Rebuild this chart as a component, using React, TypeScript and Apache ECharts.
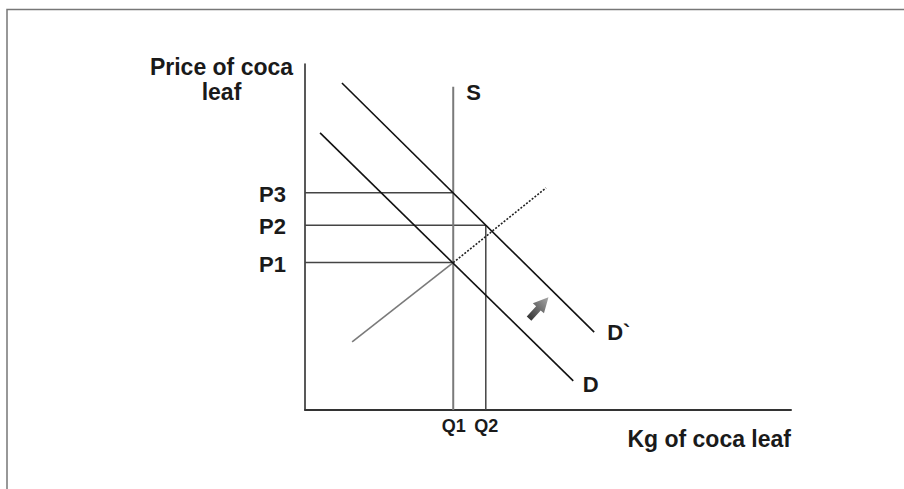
import React, { useEffect, useRef } from "react";
import * as echarts from "echarts";

// ---- data (abstract units, 0..100 on both axes) ----
const xRange = [0, 100];
const yRange = [0, 100];
const quantityLabels = ["Q1", "Q2"];
const quantityValues = [30.5, 37.2];
const priceLabels = ["P1", "P2", "P3"];
const priceValues = [42.6, 53.4, 62.8];
const priceGuideQty = [30.5, 37.2, 30.5];
const supplyLabel = "S";
const supplyQty = 30.5;
const supplyTop = 93.4;
const supplyRising = [[9.7, 19.7], [30.5, 42.6]];
const supplyRisingDotted = [[30.5, 42.6], [49.6, 64.2]];
const demandLabel = "D";
const demand = [[3.1, 80.1], [55.2, 8.4]];
const demandShiftedLabel = "D`";
const demandShifted = [[7.6, 94.5], [59.5, 22.5]];
const shiftArrow = [[46.1, 26.4], [50.1, 32.6]];
const yAxisTitle = "Price of coca\nleaf";
const xAxisTitle = "Kg of coca leaf";

const FONT = "Liberation Sans";
const TEXT_COLOR = "#1a1a1a";

function lineSeries(data: number[][], color: string, width: number, type: any = "solid", z = 3) {
  return {
    type: "line",
    data,
    symbol: "none",
    silent: true,
    z,
    lineStyle: { color, width, type },
  };
}

function textEl(text: string, x: number, y: number, fontSize: number, align: string, extra: any = {}) {
  return {
    type: "text",
    silent: true,
    z: 10,
    x,
    y,
    style: {
      text,
      fontFamily: FONT,
      fontWeight: "bold",
      fontSize,
      fill: TEXT_COLOR,
      align,
      verticalAlign: "middle",
      ...extra,
    },
  };
}

export default function App() {
  const ref = useRef<HTMLDivElement>(null);

  useEffect(() => {
    if (!ref.current) return;
    const chart = echarts.init(ref.current, undefined, { renderer: "svg" });

    const option: any = {
      animation: false,
      backgroundColor: "#ffffff",
      grid: { left: 305, top: 64, width: 486, height: 346, containLabel: false },
      xAxis: {
        type: "value",
        min: xRange[0],
        max: xRange[1],
        axisLine: { show: true, onZero: false, lineStyle: { color: "#333", width: 2 } },
        axisTick: { show: false },
        axisLabel: { show: false },
        splitLine: { show: false },
      },
      yAxis: {
        type: "value",
        min: yRange[0],
        max: yRange[1],
        axisLine: { show: true, onZero: false, lineStyle: { color: "#222", width: 1.5 } },
        axisTick: { show: false },
        axisLabel: { show: false },
        splitLine: { show: false },
      },
      series: [
        ...priceValues.map((p, i) =>
          lineSeries([[xRange[0], p], [priceGuideQty[i], p]], "#444", 1.5)
        ),
        lineSeries([[quantityValues[1], yRange[0]], [quantityValues[1], priceValues[1]]], "#444", 1.5),
        lineSeries([[supplyQty, yRange[0]], [supplyQty, supplyTop]], "#7a7a7a", 2),
        lineSeries(supplyRising, "#7a7a7a", 1.6),
        lineSeries(supplyRisingDotted, "#222", 1.6, [2, 1.6]),
        lineSeries(demand, "#111", 1.6),
        lineSeries(demandShifted, "#111", 1.6),
        {
          type: "custom",
          silent: true,
          z: 4,
          data: [[shiftArrow[0][0], shiftArrow[0][1], shiftArrow[1][0], shiftArrow[1][1]]],
          encode: { x: [0, 2], y: [1, 3] },
          renderItem: (_params: any, api: any) => {
            const a = api.coord([api.value(0), api.value(1)]);
            const b = api.coord([api.value(2), api.value(3)]);
            const dx = b[0] - a[0];
            const dy = b[1] - a[1];
            const len = Math.hypot(dx, dy) || 1;
            const ux = dx / len;
            const uy = dy / len;
            const nx = -uy;
            const ny = ux;
            const headLen = 15;
            const headHalf = 7.5;
            const shaftHalf = 3.1;
            const hb = [b[0] - ux * headLen, b[1] - uy * headLen];
            const pts = [
              [a[0] + nx * shaftHalf, a[1] + ny * shaftHalf],
              [hb[0] + nx * shaftHalf, hb[1] + ny * shaftHalf],
              [hb[0] + nx * headHalf, hb[1] + ny * headHalf],
              [b[0], b[1]],
              [hb[0] - nx * headHalf, hb[1] - ny * headHalf],
              [hb[0] - nx * shaftHalf, hb[1] - ny * shaftHalf],
              [a[0] - nx * shaftHalf, a[1] - ny * shaftHalf],
            ];
            return {
              type: "polygon",
              shape: { points: pts },
              style: {
                fill: new echarts.graphic.LinearGradient(0, 1, 1, 0, [
                  { offset: 0, color: "#2a2a2a" },
                  { offset: 1, color: "#a8a8a8" },
                ]),
              },
            };
          },
        },
      ],
    };

    chart.setOption(option);

    const px = (v: number[]) => chart.convertToPixel({ gridIndex: 0 }, v) as number[];

    const labels: any[] = [];
    priceLabels.forEach((t, i) => {
      const p = px([xRange[0], priceValues[i]]);
      labels.push(textEl(t, p[0] - 19, p[1] + 1.5, 22, "right"));
    });
    quantityLabels.forEach((t, i) => {
      const p = px([quantityValues[i], yRange[0]]);
      labels.push(textEl(t, p[0] + 0.5, p[1] + 16.3, 18, "center"));
    });
    const sp = px([supplyQty, supplyTop]);
    labels.push(textEl(supplyLabel, sp[0] + 13, sp[1] + 5.4, 22, "left"));
    const dp = px(demand[1]);
    labels.push(textEl(demandLabel, dp[0] + 9.5, dp[1] + 3.5, 22, "left"));
    const d2p = px(demandShifted[1]);
    labels.push(textEl(demandShiftedLabel, d2p[0] + 13, d2p[1] + 0.5, 22, "left"));

    chart.setOption({
      graphic: [
        {
          type: "rect",
          silent: true,
          z: -10,
          shape: { x: 7, y: 9.5, width: 1000, height: 1000 },
          style: { fill: "none", stroke: "#777", lineWidth: 1.5 },
        },
        textEl(yAxisTitle, 221.5, 79.3, 23, "center", { lineHeight: 25 }),
        textEl(xAxisTitle, 791, 438.7, 23, "right"),
        ...labels,
      ],
    });

    return () => {
      chart.dispose();
    };
  }, []);

  return (
    <div
      ref={ref}
      style={{ position: "absolute", left: 0, top: 0, width: 904, height: 489, background: "#fff" }}
    />
  );
}
